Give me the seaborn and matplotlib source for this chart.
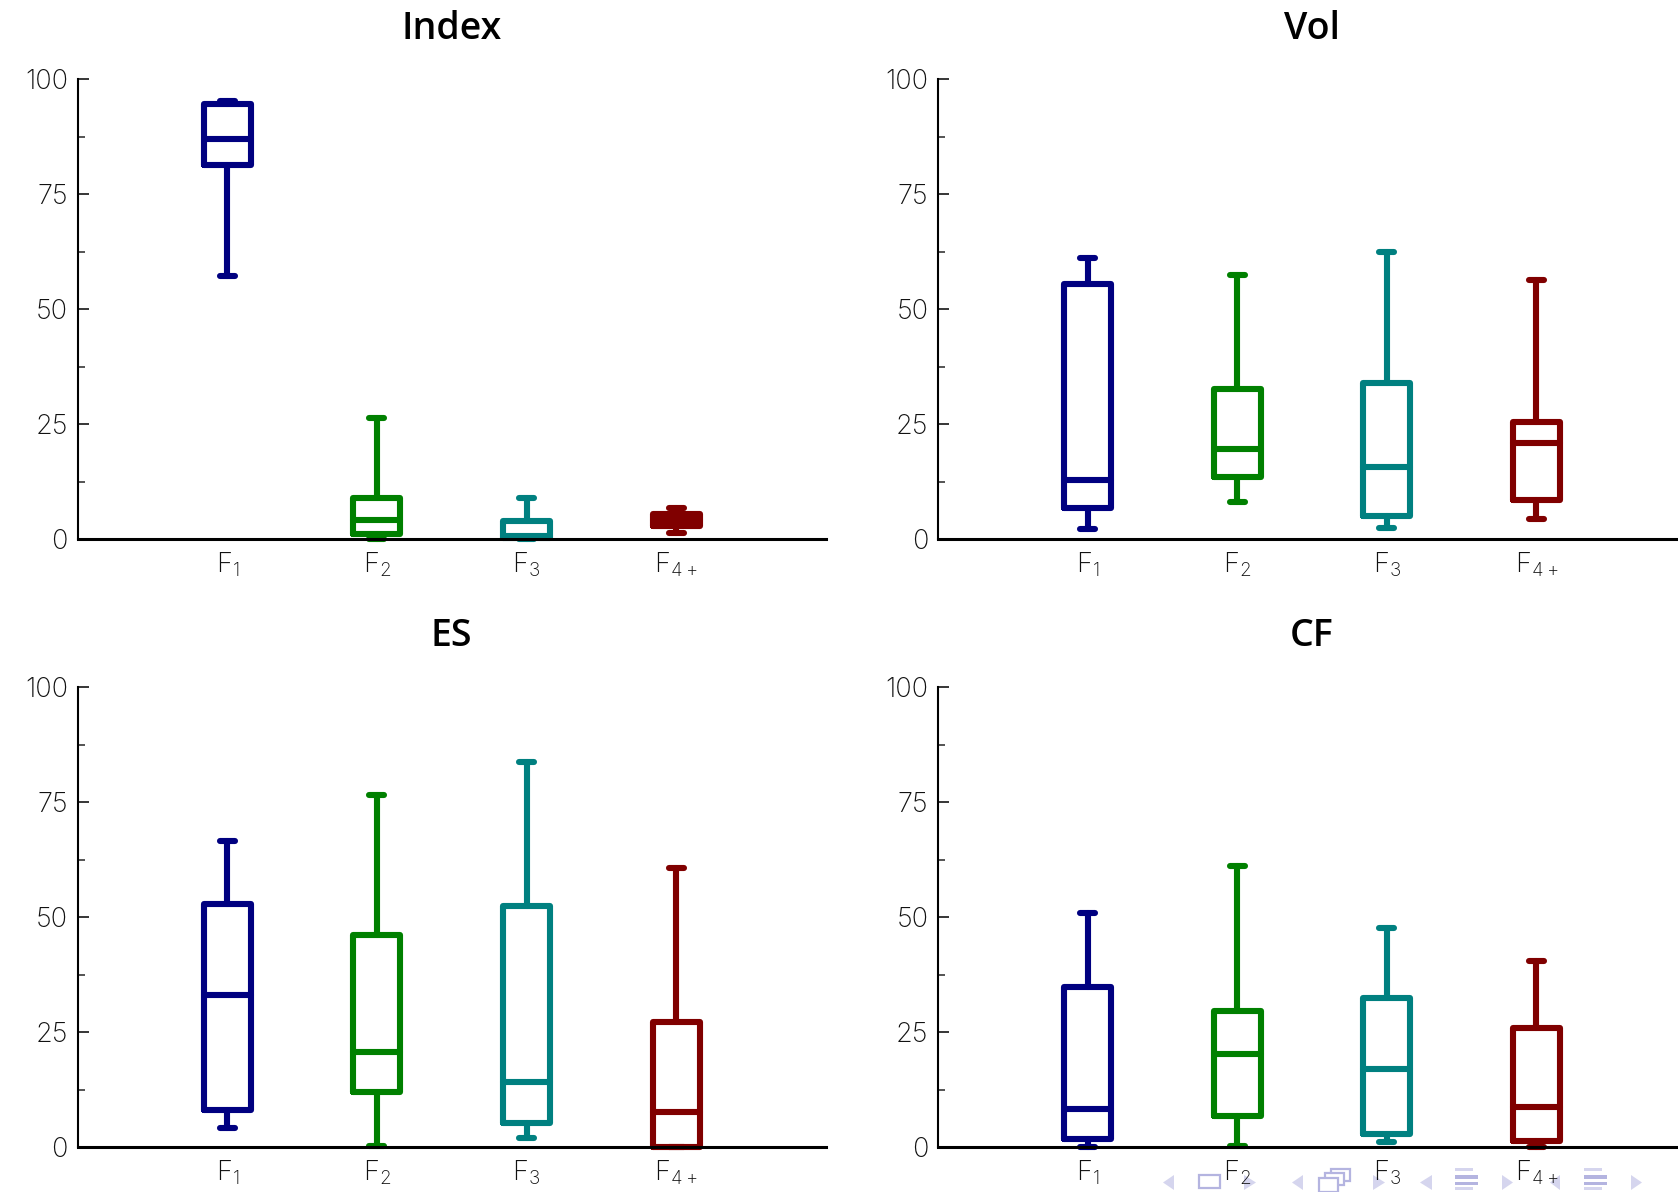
import matplotlib
matplotlib.use("Agg")
import matplotlib.pyplot as plt
from matplotlib.patches import Polygon, Rectangle
from matplotlib.ticker import MultipleLocator
import pandas as pd
import seaborn as sns

factors = ["F1", "F2", "F3", "F4+"]
factor_labels = [r"$\mathrm{F}_{1}$", r"$\mathrm{F}_{2}$", r"$\mathrm{F}_{3}$", r"$\mathrm{F}_{4+}$"]
colors = ["#000080", "#008000", "#008080", "#800000"]

# each list: lower whisker, Q1, median, Q3, upper whisker
index_f1 = [57.2, 81.2, 87.0, 94.6, 95.3]
index_f2 = [0.0, 1.0, 4.2, 9.0, 26.3]
index_f3 = [0.0, 0.2, 0.6, 4.0, 9.0]
index_f4 = [1.3, 2.8, 4.2, 5.4, 6.7]
vol_f1 = [2.1, 6.8, 12.8, 55.5, 61.0]
vol_f2 = [8.0, 13.5, 19.5, 32.7, 57.4]
vol_f3 = [2.5, 5.1, 15.7, 34.0, 62.5]
vol_f4 = [4.4, 8.4, 20.8, 25.5, 56.2]
es_f1 = [4.2, 8.1, 33.0, 52.8, 66.5]
es_f2 = [0.2, 11.9, 20.6, 46.0, 76.5]
es_f3 = [2.0, 5.3, 14.2, 52.5, 83.8]
es_f4 = [0.0, 0.0, 7.7, 27.1, 60.7]
cf_f1 = [0.0, 1.8, 8.3, 34.7, 50.9]
cf_f2 = [0.3, 6.7, 20.2, 29.5, 61.1]
cf_f3 = [1.0, 2.8, 17.0, 32.3, 47.7]
cf_f4 = [0.0, 1.3, 8.8, 25.8, 40.5]

panels = {
    "Index": [index_f1, index_f2, index_f3, index_f4],
    "Vol": [vol_f1, vol_f2, vol_f3, vol_f4],
    "ES": [es_f1, es_f2, es_f3, es_f4],
    "CF": [cf_f1, cf_f2, cf_f3, cf_f4],
}

W, H = 1678, 1192
sns.set_theme(style="white")
plt.rcParams["font.family"] = ["Inter", "DejaVu Sans"]
plt.rcParams["mathtext.fontset"] = "custom"
plt.rcParams["mathtext.rm"] = "Inter:light"
plt.rcParams["mathtext.it"] = "Inter:light"
plt.rcParams["mathtext.bf"] = "Inter:light"

fig = plt.figure(figsize=(W / 100, H / 100), dpi=100, facecolor="white")

boxes = {"Index": (77.7, 79), "Vol": (938, 79), "ES": (77.7, 687), "CF": (938, 687)}
title_pads = {"Index": 28.5, "Vol": 28.5, "ES": 29.5, "CF": 29.5}
AW, AH = 748, 460

for name, series in panels.items():
    x0, y0 = boxes[name]
    ax = fig.add_axes([x0 / W, 1 - (y0 + AH) / H, AW / W, AH / H])
    ax.patch.set_visible(False)
    df = pd.DataFrame(
        [(f, v) for f, vals in zip(factors, series) for v in vals],
        columns=["factor", "value"],
    )
    sns.boxplot(
        data=df, x="factor", y="value", hue="factor", order=factors, hue_order=factors,
        palette=colors, fill=False, linewidth=4.4, width=0.315, whis=(0, 100),
        showfliers=False, capwidths=0.1, legend=False, ax=ax,
    )
    for art in ax.lines:
        art.set_clip_on(False)
        art.set_solid_capstyle("round")
        art.set_solid_joinstyle("round")
    for art in ax.patches:
        art.set_clip_on(False)
    ax.set_xlim(-1, 4)
    ax.set_ylim(0, 100)
    ax.set_xlabel("")
    ax.set_ylabel("")
    ax.set_xticks(range(4))
    ax.set_xticklabels(factor_labels, fontsize=19.5, color="#111111")
    ax.set_yticks([0, 25, 50, 75, 100])
    ax.yaxis.set_minor_locator(MultipleLocator(12.5))
    ax.tick_params(axis="x", length=0, pad=8)
    ax.tick_params(axis="y", which="major", direction="in", length=8, width=1.3, left=True, pad=7,
                   labelsize=19.5, labelcolor="#111111")
    ax.tick_params(axis="y", which="minor", direction="in", length=5, width=1.1, left=True)
    for lab in ax.get_yticklabels():
        lab.set_fontweight("light")
    for s in ("top", "right"):
        ax.spines[s].set_visible(False)
    ax.spines["left"].set_linewidth(1.5)
    ax.spines["left"].set_color("black")
    ax.spines["bottom"].set_linewidth(2.2)
    ax.spines["bottom"].set_color("black")
    ax.spines["bottom"].set_zorder(5)
    ax.set_title(name, fontsize=27, fontweight="semibold", color="black", pad=title_pads[name],
                 family=["Open Sans", "DejaVu Sans"])

# beamer navigation symbols, figure pixels, beneath the axes text
nav = "#d5d5ee"
nav2 = "#b4b4e0"


def px(x, y):
    return (x / W, 1 - y / H)


def tri(xa, xb, ya, yb, left):
    tip, base = (xa, xb) if left else (xb, xa)
    fig.add_artist(Polygon([px(tip, (ya + yb) / 2), px(base, ya), px(base, yb)], closed=True,
                           transform=fig.transFigure, fc=nav, ec="none", zorder=-2))


def rect(xa, ya, xb, yb, fc="none", ec=nav2, lw=1.6):
    fig.add_artist(Rectangle(px(xa, yb), (xb - xa) / W, (yb - ya) / H, transform=fig.transFigure,
                             fc=fc, ec=ec, lw=lw, zorder=-2))


for a, b, left in [(1163, 1174, True), (1244, 1256, False), (1292, 1303, True), (1373, 1385, False),
                   (1420, 1432, True), (1502, 1513, False), (1550, 1560, True), (1631, 1642, False)]:
    tri(a, b, 1175, 1190, left)
rect(1199, 1175, 1220, 1188)
rect(1331, 1169, 1350, 1181, fc="white")
rect(1325, 1173, 1344, 1185, fc="white")
rect(1319, 1178, 1338, 1192, fc="white")
for xa, xb in [(1455, 1478), (1584, 1607)]:
    rect(xa + 0, 1168, xb - 5, 1171, fc=nav, ec="none", lw=0)
    rect(xa, 1175, xb, 1179, fc=nav2, ec="none", lw=0)
    rect(xa + 0, 1182, xb - 0, 1185, fc=nav2, ec="none", lw=0)
    rect(xa + 0, 1187, xb - 5, 1190, fc=nav, ec="none", lw=0)

fig.savefig("out.png", dpi=100, facecolor="white")
